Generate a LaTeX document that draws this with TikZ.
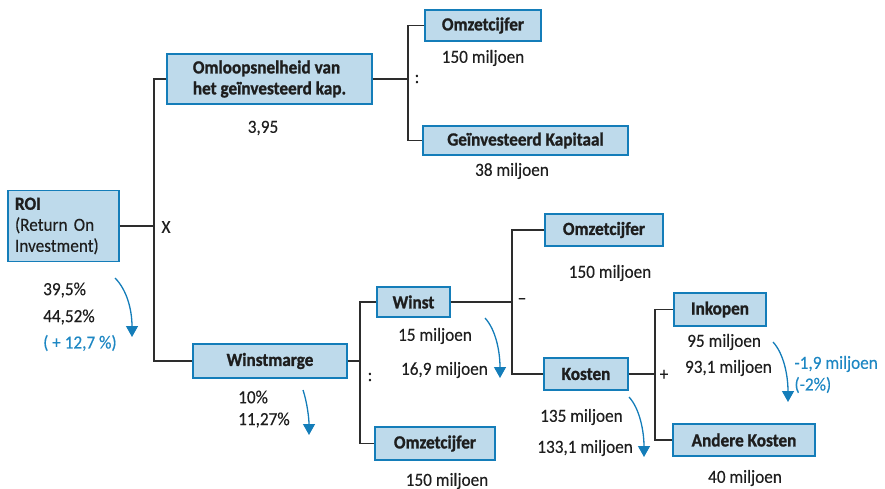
\documentclass[tikz,border=0pt]{standalone}
\usepackage{fontspec}
\setmainfont{Carlito}[FakeStretch=0.93, FakeBold=0.25, BoldFeatures={FakeBold=1.2}]
\usetikzlibrary{arrows.meta}
\definecolor{boxfill}{RGB}{190,218,235}
\definecolor{boxline}{RGB}{20,125,185}
\definecolor{arrblue}{RGB}{20,125,185}
\definecolor{txtblue}{RGB}{30,135,195}
\definecolor{linegray}{RGB}{45,45,45}
\definecolor{txt}{RGB}{30,30,30}
\tikzset{
  box/.style={draw=boxline, line width=1.4pt, fill=boxfill, font=\fontsize{18.5}{21}\selectfont\bfseries, text=txt, inner sep=0pt},
  lbl/.style={font=\fontsize{18.5}{21}\selectfont, text=txt, inner sep=0pt},
  blbl/.style={font=\fontsize{18.5}{21}\selectfont, text=txtblue, inner sep=0pt},
  conn/.style={draw=linegray, line width=1.2pt},
  chg/.style={draw=arrblue, line width=1.3pt, -{Triangle[width=12pt,length=11pt]}},
}
\begin{document}
\begin{tikzpicture}[x=1pt,y=-1pt]
\useasboundingbox (0,0) rectangle (885,489);
% boxes
\node[box, minimum width=111, minimum height=71, text width=97, align=left] (roi) at (63.5,226)
  {ROI\\\mdseries (Return On\\\mdseries Investment)};
\node[box, minimum width=205, minimum height=50, align=left] (omloop) at (269.5,79)
  {Omloopsnelheid van\\het geïnvesteerd kap.};
\node[box, minimum width=116, minimum height=31] (omz1) at (483,25.5) {Omzetcijfer};
\node[box, minimum width=205, minimum height=29] (gk) at (525.5,140.5) {Geïnvesteerd Kapitaal};
\node[box, minimum width=154, minimum height=34] (wm) at (270,361) {Winstmarge};
\node[box, minimum width=73, minimum height=30] (winst) at (413.5,302) {Winst};
\node[box, minimum width=120, minimum height=33] (omz3) at (435,443.5) {Omzetcijfer};
\node[box, minimum width=118, minimum height=32] (omz2) at (604,230) {Omzetcijfer};
\node[box, minimum width=84, minimum height=32] (kosten) at (586,374) {Kosten};
\node[box, minimum width=92, minimum height=33] (inkopen) at (720,309.5) {Inkopen};
\node[box, minimum width=142, minimum height=32] (andere) at (744,440) {Andere Kosten};
% bus coordinates
\coordinate (b1) at (154,0);
\coordinate (b2) at (408,0);
\coordinate (b3) at (360,0);
\coordinate (b4) at (512,0);
\coordinate (b5) at (655,0);
% connectors
\draw[conn] (omloop.west) -- (omloop.west -| b1) |- (wm.west);
\draw[conn] (roi.east) -- (roi.east -| b1);
\draw[conn] (omz1.west) -- (omz1.west -| b2) |- (gk.west);
\draw[conn] (omloop.east) -- (omloop.east -| b2);
\draw[conn] (winst.west) -- (winst.west -| b3) |- (omz3.west);
\draw[conn] (wm.east) -- (wm.east -| b3);
\draw[conn] (omz2.west) -- (omz2.west -| b4) |- (kosten.west);
\draw[conn] (winst.east) -- (winst.east -| b4);
\draw[conn] (inkopen.west) -- (inkopen.west -| b5) |- (andere.west);
\draw[conn] (kosten.east) -- (kosten.east -| b5);
% operators
\node[lbl] (opx) at (166,227) {X};
\node[lbl] (op1) at (417,79) {:};
\node[lbl] (op2) at (370,377) {:};
\node[lbl] (op3) at (522,301) {–};
\node[lbl] (op4) at (664,375) {+};
% values
\node[lbl] (v1) at (263,128) {3,95};
\node[lbl] (v2) at (483,58) {150 miljoen};
\node[lbl] (v3) at (512,171) {38 miljoen};
\node[lbl, anchor=west] (v4) at (43,290) {39,5\%};
\node[lbl, anchor=west] (v5) at (43,317) {44,52\%};
\node[blbl, anchor=west] (v6) at (43,343) {( + 12,7 \%)};
\node[lbl, anchor=west] (v7) at (238,397) {10\%};
\node[lbl, anchor=west] (v8) at (238,420) {11,27\%};
\node[lbl] (v9) at (435,336) {15 miljoen};
\node[lbl, anchor=east] (v10) at (488,370) {16,9 miljoen};
\node[lbl] (v11) at (447,481) {150 miljoen};
\node[lbl] (v12) at (610,273) {150 miljoen};
\node[lbl, anchor=west] (v13) at (540,417) {135 miljoen};
\node[lbl, anchor=east] (v14) at (633,448) {133,1 miljoen};
\node[lbl, anchor=west] (v15) at (687,342) {95 miljoen};
\node[lbl, anchor=east] (v16) at (772,368) {93,1 miljoen};
\node[blbl, anchor=east] (v17) at (878,364) {-1,9 miljoen};
\node[blbl, anchor=west] (v18) at (v17.west |- 0,385) {(-2\%)};
\node[lbl] (v19) at (745,478) {40 miljoen};
% change arrows
\coordinate (a1s) at (115,278); \coordinate (a1e) at (132,337);
\coordinate (a2s) at (303,390); \coordinate (a2e) at (309,435);
\coordinate (a3s) at (485,318); \coordinate (a3e) at (500,378);
\coordinate (a4s) at (629,397); \coordinate (a4e) at (644,457);
\coordinate (a5s) at (773,342); \coordinate (a5e) at (788,402);
\draw[chg] (a1s) .. controls (127,290) and (132,310) .. (a1e);
\draw[chg] (a2s) .. controls (307,402) and (309,418) .. (a2e);
\draw[chg] (a3s) .. controls (496,330) and (500,352) .. (a3e);
\draw[chg] (a4s) .. controls (640,409) and (644,432) .. (a4e);
\draw[chg] (a5s) .. controls (784,354) and (788,376) .. (a5e);
\end{tikzpicture}
\end{document}
